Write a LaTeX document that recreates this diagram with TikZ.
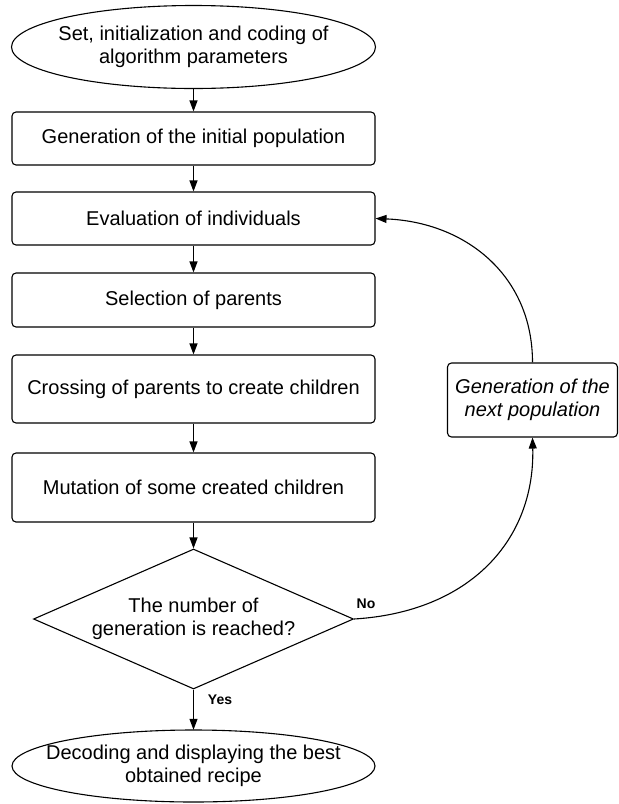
\documentclass[tikz,border=0pt]{standalone}
\usepackage{fontspec}
\setmainfont{Liberation Sans}
\usetikzlibrary{shapes.geometric,arrows.meta}
\begin{document}
\begin{tikzpicture}[x=1pt,y=-1pt,
  every node/.style={align=center, inner sep=0pt},
  txt/.style={font=\fontsize{20}{23}\selectfont},
  box/.style={txt, draw, rounded corners=4pt, line width=1.1pt, minimum width=363pt},
  term/.style={txt, rectangle},
  termline/.style={line width=1.1pt},
  decision/.style={txt, draw, diamond, aspect=2.286, line width=1.1pt},
  lab/.style={font=\fontsize{14}{16}\bfseries\selectfont},
  arr/.style={line width=1.1pt, -{Triangle[length=11pt,width=8pt]}}]
\useasboundingbox (0,0) rectangle (619,804);
\node[term, minimum width=364pt, minimum height=83pt] (start) at (193.5,47) {Set, initialization and coding of\\algorithm parameters};
\draw[termline] (start.center) ellipse [x radius=182pt, y radius=41.5pt];
\node[box, minimum height=53pt] (gen) at (193.5,138.5) {Generation of the initial population};
\node[box, minimum height=53pt] (eval) at (193.5,218.5) {Evaluation of individuals};
\node[box, minimum height=54pt] (sel) at (193.5,300) {Selection of parents};
\node[box, minimum height=68pt] (cross) at (193.5,389) {Crossing of parents to create children};
\node[box, minimum height=69pt] (mut) at (193.5,487.5) {Mutation of some created children};
\node[decision, minimum width=320pt, minimum height=140pt] (dec) at (193.5,619) {The number of\\generation is reached?};
\node[term, minimum width=363pt, minimum height=72pt] (end) at (193.5,766) {Decoding and displaying the best\\obtained recipe};
\draw[termline] (end.center) ellipse [x radius=181.5pt, y radius=36pt];
\node[box, minimum width=170pt, minimum height=74pt, font=\fontsize{20}{23}\selectfont\itshape] (next) at (532.5,400) {Generation of the\\next population};
\node[lab] (no) at (366,604) {No};
\node[lab] (yes) at (220,700) {Yes};
\draw[arr] (start) -- (gen);
\draw[arr] (gen) -- (eval);
\draw[arr] (eval) -- (sel);
\draw[arr] (sel) -- (cross);
\draw[arr] (cross) -- (mut);
\draw[arr] (mut) -- (dec);
\draw[arr] (dec) -- (end);
\draw[arr] (dec.east) .. controls (470,612) and (535,540) .. (next.south);
\draw[arr] (next.north) .. controls (532.5,275) and (465,222) .. (eval.east);
\end{tikzpicture}
\end{document}
